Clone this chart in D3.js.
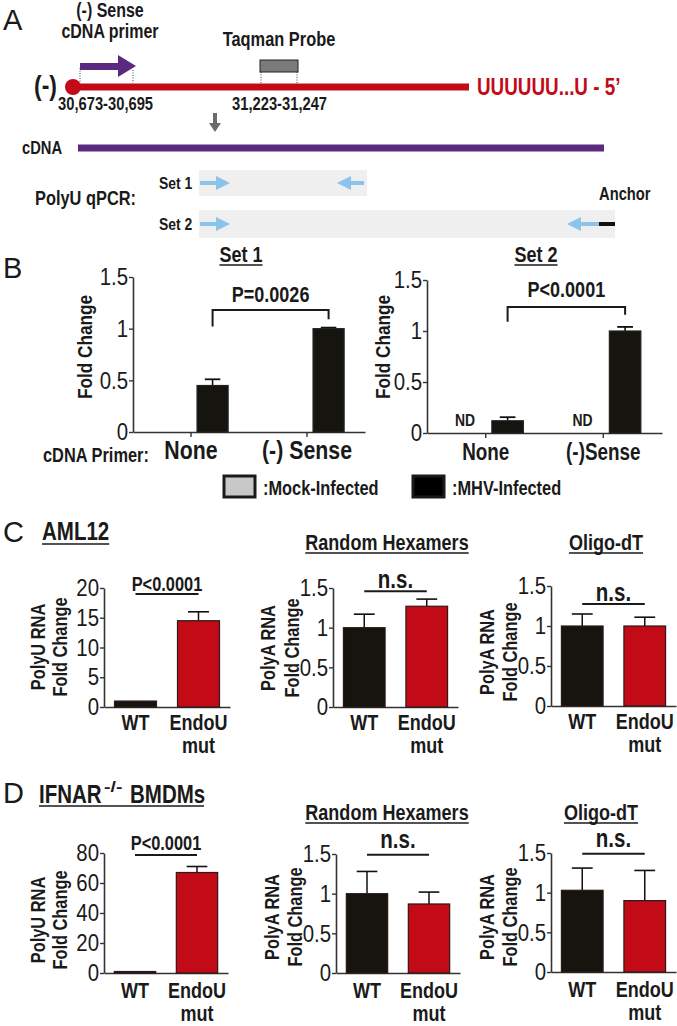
<!DOCTYPE html>
<html><head><meta charset="utf-8">
<script src="https://cdn.jsdelivr.net/npm/d3@7"></script>
<style>
body{margin:0;background:#fff;}
svg{display:block;}
text{font-family:'Liberation Sans',Arial,sans-serif;fill:#1a1a1a;}
.b{font-weight:bold;}
.let{font-family:'Liberation Sans',Arial,sans-serif;font-weight:normal;}
</style></head><body>
<svg id="c" width="677" height="1026"></svg>
<script>
// ---------- DATA ----------
const bCategories = ["None", "(-) Sense"];
const bCategories2 = ["None", "(-)Sense"];
const bSeries = ["Mock-Infected", "MHV-Infected"];
const set1Mock = [0, 0];
const set1MHV = [0.45, 1.00];
const set1MHVErr = [0.06, 0.01];
const set2Mock = [null, null];          // ND
const set2MHV = [0.12, 1.00];
const set2MHVErr = [0.035, 0.04];
const bTicks = [0, 0.5, 1, 1.5];
const set1P = "P=0.0026";
const set2P = "P<0.0001";

const groups = ["WT", "EndoU mut"];
const polyUTicksC = [0, 5, 10, 15, 20];
const polyUTicksD = [0, 20, 40, 60, 80];
const polyATicks = [0, 0.5, 1, 1.5];
const cPolyU = [1.0, 14.5];   const cPolyUErr = [0, 1.5];
const cRandom = [1.0, 1.27];  const cRandomErr = [0.17, 0.09];
const cOligo = [1.0, 1.0];    const cOligoErr = [0.15, 0.11];
const dPolyU = [1.0, 67];     const dPolyUErr = [0, 4];
const dRandom = [1.0, 0.87];  const dRandomErr = [0.28, 0.15];
const dOligo = [1.03, 0.90];  const dOligoErr = [0.28, 0.38];

// ---------- SETUP ----------
const svg = d3.select('#c');
const RED = '#c20b17', BLK = '#15140f', PURPLE = '#5b2a80', BLUE = '#8cc3ea', AX = '#333';
const SQ = 0.82; // horizontal condensing factor (condensed Helvetica look)

function txt(t, x, y, size, opts = {}) {
  const e = svg.append('text').attr('x', x).attr('y', y).style('font-size', size + 'px')
    .attr('text-anchor', opts.anchor || 'start').text(t);
  if (opts.bold !== false) e.attr('class', 'b');
  if (opts.fill) e.style('fill', opts.fill);
  if (opts.cls) e.attr('class', opts.cls);
  return e;
}
// squeeze text horizontally around its anchor point
function condense(sel) {
  sel.each(function () {
    const k = +(this.getAttribute('data-sq') || SQ);
    const x = +(this.getAttribute('x') || 0);
    const tr = this.getAttribute('transform') || '';
    this.setAttribute('transform', `${tr} translate(${x},0) scale(${k},1) translate(${-x},0)`.trim());
  });
}
function underline(x1, x2, y) {
  svg.append('line').attr('x1', x1).attr('x2', x2).attr('y1', y).attr('y2', y)
    .attr('stroke', '#1a1a1a').attr('stroke-width', 1.6);
}
function titleU(t, cx, y, size) {
  const e = txt(t, cx, y, size, { anchor: 'middle' });
  const w = e.node().getComputedTextLength() * SQ;
  underline(cx - w / 2, cx + w / 2, y + 3);
  return e;
}
function ylab(lines, xs, cy, size) {
  lines.forEach((t, i) => svg.append('text').attr('class', 'b')
    .attr('transform', `translate(${xs[i]},${cy}) rotate(-90)`)
    .attr('text-anchor', 'middle').attr('dy', '0.35em').style('font-size', size + 'px').text(t));
}
function styleAxis(g, fs, bold, sq) {
  g.select('.domain').attr('stroke', AX).attr('stroke-width', 1.6);
  g.selectAll('.tick line').attr('stroke', AX).attr('stroke-width', 1.4);
  g.selectAll('.tick text').style('font-size', fs + 'px').style('font-family', "'Liberation Sans',Arial,sans-serif")
    .style('font-weight', bold ? 'bold' : 'normal').attr('fill', '#1a1a1a');
  if (sq) g.selectAll('.tick text').attr('data-sq', sq);
}

// panel letters
[['A', 3, 30], ['B', 3, 278], ['C', 3, 542], ['D', 3, 803]].forEach(([t, x, y]) =>
  txt(t, x, y, 29, { cls: 'let' }));

// ---------- PANEL A (schematic) ----------
txt('(-) Sense', 110, 17, 19.5, { anchor: 'middle' });
txt('cDNA primer', 110, 38, 19.5, { anchor: 'middle' });
txt('Taqman Probe', 279, 46, 20, { anchor: 'middle' });
svg.append('line').attr('x1', 72).attr('x2', 469).attr('y1', 87).attr('y2', 87).attr('stroke', RED).attr('stroke-width', 7);
svg.append('circle').attr('cx', 73).attr('cy', 87).attr('r', 8).attr('fill', RED);
svg.append('path').attr('d', 'M80,63H118V55L136,66L118,77V70H80Z').attr('fill', PURPLE);
[[80, 68], [133, 70], [261, 72], [297, 72]].forEach(([x, y]) =>
  svg.append('line').attr('x1', x).attr('x2', x).attr('y1', y).attr('y2', 83).attr('stroke', '#444').attr('stroke-width', 1).attr('stroke-dasharray', '1,1.5'));
svg.append('rect').attr('x', 260).attr('y', 60).attr('width', 38).attr('height', 12).attr('fill', '#7a7a7a').attr('stroke', '#222').attr('stroke-width', 1);
txt('(-)', 34, 95, 28);
txt('30,673-30,695', 58, 110, 18);
txt('31,223-31,247', 232, 110, 18);
txt('UUUUUU...U - 5\u2019', 477, 95, 23, { fill: RED });
svg.append('path').attr('d', 'M213,113H217V123H221L215,132L209,123H213Z').attr('fill', '#6b6b6b');
txt('cDNA', 22, 154, 18);
svg.append('line').attr('x1', 78).attr('x2', 604).attr('y1', 148).attr('y2', 148).attr('stroke', PURPLE).attr('stroke-width', 7);
txt('PolyU qPCR:', 35, 205, 20);
txt('Set 1', 159, 189, 17);
txt('Set 2', 159, 230, 17);
txt('Anchor', 599, 200, 18);
svg.append('rect').attr('x', 199).attr('y', 170).attr('width', 168).attr('height', 26).attr('fill', '#efefef');
svg.append('rect').attr('x', 199).attr('y', 210).attr('width', 416).attr('height', 28).attr('fill', '#efefef');
function blueArrow(x1, x2, y) {
  const dir = Math.sign(x2 - x1), hx = x2 - dir * 14;
  svg.append('line').attr('x1', x1).attr('x2', hx).attr('y1', y).attr('y2', y).attr('stroke', BLUE).attr('stroke-width', 4);
  svg.append('path').attr('d', `M${hx},${y - 7}L${x2},${y}L${hx},${y + 7}Z`).attr('fill', BLUE);
}
blueArrow(200, 230, 183);
blueArrow(364, 337, 183);
blueArrow(200, 230, 224);
blueArrow(599, 567, 224);
svg.append('line').attr('x1', 599).attr('x2', 615).attr('y1', 224).attr('y2', 224).attr('stroke', '#111').attr('stroke-width', 4);

// ---------- PANEL B ----------
function panelB(o) {
  const y = d3.scaleLinear().domain([0, 1.5]).range([o.y0, o.yTop]);
  const x = d3.scaleBand().domain(o.cats).range([o.ax, o.axEnd]);
  const xs = d3.scaleBand().domain(bSeries).range([x.bandwidth() * 0.19, x.bandwidth() * 0.82]).paddingInner(0.26);
  const ga = svg.append('g').attr('transform', `translate(${o.ax},0)`)
    .call(d3.axisLeft(y).tickValues(bTicks).tickSize(4).tickSizeOuter(0).tickPadding(1).tickFormat(d3.format('')));
  styleAxis(ga, 24, false, 0.85);
  const gx = svg.append('g').attr('transform', `translate(0,${o.y0})`)
    .call(d3.axisBottom(x).tickSize(5).tickSizeOuter(0).tickPadding(o.xPad));
  styleAxis(gx, o.xFs, true);
  const bw = xs.bandwidth();
  o.cats.forEach((c, i) => {
    const xm = x(c) + xs(bSeries[0]);
    if (o.mock[i] === null) {
      txt('ND', xm + bw / 2, o.y0 - 7, 17, { anchor: 'middle' });
    } else if (o.mock[i] > 0) {
      svg.append('rect').attr('x', xm).attr('y', y(o.mock[i])).attr('width', bw).attr('height', o.y0 - y(o.mock[i]))
        .attr('fill', '#c8c8c8').attr('stroke', '#222').attr('stroke-width', 1.5);
    }
    const xh = x(c) + xs(bSeries[1]);
    const v = o.mhv[i], e = o.err[i];
    svg.append('line').attr('x1', xh + bw / 2).attr('x2', xh + bw / 2).attr('y1', y(v)).attr('y2', y(v + e)).attr('stroke', '#111').attr('stroke-width', 1.6);
    svg.append('line').attr('x1', xh + bw * 0.25).attr('x2', xh + bw * 0.75).attr('y1', y(v + e)).attr('y2', y(v + e)).attr('stroke', '#111').attr('stroke-width', 1.8);
    svg.append('rect').attr('x', xh).attr('y', y(v)).attr('width', bw).attr('height', o.y0 - y(v))
      .attr('fill', BLK).attr('stroke', '#222').attr('stroke-width', 1.2);
  });
  const xl = x(o.cats[0]) + xs(bSeries[1]) + bw / 2, xr = x(o.cats[1]) + xs(bSeries[1]) + bw / 2;
  svg.append('path').attr('d', `M${xl},${y(o.br[1])}V${y(o.br[0])}H${xr}V${y(o.br[2])}`)
    .attr('fill', 'none').attr('stroke', '#1a1a1a').attr('stroke-width', 2);
  txt(o.p, (xl + xr) / 2, o.pY, 22, { anchor: 'middle' });
  titleU(o.title, o.titleX, 262, 22);
  ylab(['Fold Change'], [o.labX], 347, 21);
}
panelB({ cats: bCategories, ax: 133, axEnd: 365, y0: 432, yTop: 277, mock: set1Mock, mhv: set1MHV, err: set1MHVErr,
  br: [1.18, 1.02, 1.09], p: set1P, pY: 302, title: 'Set 1', titleX: 241, labX: 85, xFs: 26, xPad: 4 });
panelB({ cats: bCategories2, ax: 427, axEnd: 662, y0: 433, yTop: 280, mock: set2Mock, mhv: set2MHV, err: set2MHVErr,
  br: [1.235, 1.09, 1.16], p: set2P, pY: 297, title: 'Set 2', titleX: 536, labX: 383, xFs: 23, xPad: 6 });
txt('cDNA Primer:', 43, 462, 20);

// legend
const legendColors = ['#c8c8c8', '#000'];
const legendX = [224, 413];
bSeries.forEach((s, i) => {
  svg.append('rect').attr('x', legendX[i]).attr('y', 476).attr('width', 31).attr('height', 21)
    .attr('fill', legendColors[i]).attr('stroke', '#1a1a1a').attr('stroke-width', 3);
  txt(':' + s, legendX[i] + 39, 495, 20);
});

// ---------- PANELS C & D ----------
function panel(o) {
  const y = d3.scaleLinear().domain([0, o.max]).range([o.y0, o.yTop]);
  const x = d3.scaleBand().domain(groups).range([o.ax, o.axEnd]).paddingInner(1 / 3).paddingOuter(1 / 6);
  const ga = svg.append('g').attr('transform', `translate(${o.ax},0)`)
    .call(d3.axisLeft(y).tickValues(o.ticks).tickSize(4).tickSizeOuter(0).tickPadding(1).tickFormat(d3.format('')));
  styleAxis(ga, 24, false, 0.85);
  const gx = svg.append('g').attr('transform', `translate(0,${o.y0})`)
    .call(d3.axisBottom(x).tickSize(0).tickSizeOuter(0).tickPadding(o.pad).tickFormat(d => d.split(' ')[0]));
  styleAxis(gx, 22, true);
  gx.selectAll('.tick').each(function (d) {
    const w = d.split(' ');
    if (w.length > 1) {
      d3.select(this).append('text').attr('class', 'b').attr('y', o.pad).attr('dy', '1.76em')
        .attr('text-anchor', 'middle').style('font-size', '22px').text(w.slice(1).join(' '));
    }
  });
  const bw = x.bandwidth();
  const cols = [BLK, RED];
  groups.forEach((g, i) => {
    const v = o.vals[i], e = o.errs[i], xx = x(g);
    if (e > 0) {
      svg.append('line').attr('x1', xx + bw / 2).attr('x2', xx + bw / 2).attr('y1', y(v)).attr('y2', y(v + e)).attr('stroke', '#111').attr('stroke-width', 1.5);
      svg.append('line').attr('x1', xx + bw * 0.25).attr('x2', xx + bw * 0.75).attr('y1', y(v + e)).attr('y2', y(v + e)).attr('stroke', '#111').attr('stroke-width', 1.6);
    }
    svg.append('rect').attr('x', xx).attr('y', y(v)).attr('width', bw).attr('height', o.y0 - y(v))
      .attr('fill', cols[i]).attr('stroke', '#2a1a1a').attr('stroke-width', 1.2);
  });
  const xl = x(groups[0]) + bw / 2, xr = x(groups[1]) + bw / 2;
  svg.append('line').attr('x1', xl).attr('x2', xr).attr('y1', y(o.sigY)).attr('y2', y(o.sigY)).attr('stroke', '#1a1a1a').attr('stroke-width', 2);
  txt(o.sig, (xl + xr) / 2, y(o.sigY) - o.sigGap, o.sigSize, { anchor: 'middle' });
  if (o.title) titleU(o.title, o.titleX, o.titleY, 22);
  ylab(o.ylab, o.labX, o.labY, 20);
}
// C
const tC = txt('AML12', 42, 540, 25);
underline(42, 42 + tC.node().getComputedTextLength() * SQ, 544);
panel({ ax: 104, axEnd: 230, y0: 707, yTop: 588, max: 20, ticks: polyUTicksC, vals: cPolyU, errs: cPolyUErr, pad: 7,
  sigY: 19, sig: 'P<0.0001', sigGap: 3, sigSize: 20, ylab: ['PolyU RNA', 'Fold Change'], labX: [38, 60], labY: 647 });
panel({ ax: 333, axEnd: 458, y0: 707, yTop: 588, max: 1.5, ticks: polyATicks, vals: cRandom, errs: cRandomErr, pad: 7,
  sigY: 1.46, sig: 'n.s.', sigGap: 3, sigSize: 25, title: 'Random Hexamers', titleX: 387, titleY: 550,
  ylab: ['PolyA RNA', 'Fold Change'], labX: [268, 292], labY: 648 });
panel({ ax: 551, axEnd: 676, y0: 706, yTop: 586, max: 1.5, ticks: polyATicks, vals: cOligo, errs: cOligoErr, pad: 7,
  sigY: 1.275, sig: 'n.s.', sigGap: 3, sigSize: 25, title: 'Oligo-dT', titleX: 606, titleY: 550,
  ylab: ['PolyA RNA', 'Fold Change'], labX: [487, 510], labY: 652 });
// D title: IFNAR-/- BMDMs
txt('IFNAR', 39, 803, 25);
txt('-/-', 104, 792, 15).attr('data-sq', 1.3);
txt('BMDMs', 130, 803, 25);
underline(39, 204, 806);
panel({ ax: 104, axEnd: 228, y0: 973, yTop: 853, max: 80, ticks: polyUTicksD, vals: dPolyU, errs: dPolyUErr, pad: 9,
  sigY: 78.7, sig: 'P<0.0001', sigGap: 5, sigSize: 20, ylab: ['PolyU RNA', 'Fold Change'], labX: [38, 60], labY: 920 });
panel({ ax: 336, axEnd: 460, y0: 973, yTop: 854, max: 1.5, ticks: polyATicks, vals: dRandom, errs: dRandomErr, pad: 9,
  sigY: 1.49, sig: 'n.s.', sigGap: 7, sigSize: 25, title: 'Random Hexamers', titleX: 387, titleY: 820,
  ylab: ['PolyA RNA', 'Fold Change'], labX: [272, 295], labY: 917 });
panel({ ax: 551, axEnd: 676, y0: 972, yTop: 853, max: 1.5, ticks: polyATicks, vals: dOligo, errs: dOligoErr, pad: 9,
  sigY: 1.49, sig: 'n.s.', sigGap: 7, sigSize: 25, title: 'Oligo-dT', titleX: 601, titleY: 820,
  ylab: ['PolyA RNA', 'Fold Change'], labX: [487, 510], labY: 917 });

// condense all non-letter text to mimic a condensed sans face
condense(svg.selectAll('text').filter(function () { return !this.classList.contains('let'); }));
</script>
</body></html>
